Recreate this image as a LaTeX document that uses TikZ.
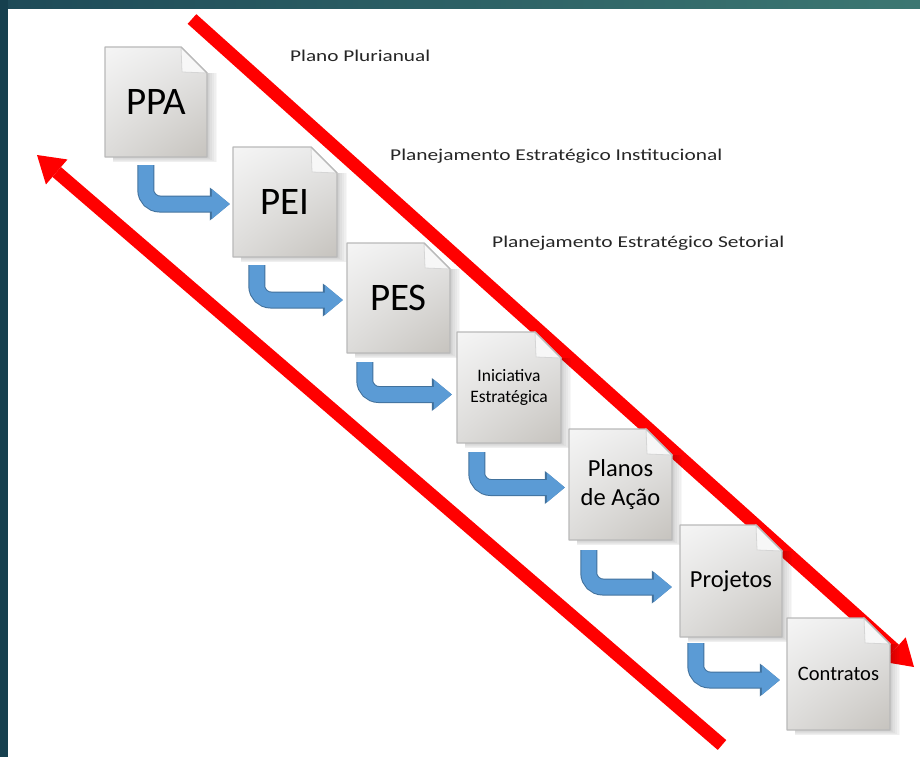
\documentclass[tikz,border=0pt]{standalone}
\usepackage{fontspec}
\setmainfont{Carlito}
\usetikzlibrary{arrows.meta,calc,shadings}
\definecolor{frameleft}{HTML}{16404E}
\definecolor{topA}{HTML}{1E4A58}
\definecolor{topB}{HTML}{3C7772}
\definecolor{arrowfill}{HTML}{5B9BD5}
\definecolor{arrowedge}{HTML}{41719C}
\definecolor{redline}{HTML}{FF0000}
\definecolor{docedge}{HTML}{B9B9B9}
\definecolor{docA}{HTML}{F5F5F5}
\definecolor{docB}{HTML}{E8E8E8}
\definecolor{docC}{HTML}{DCDBD9}
\definecolor{docD}{HTML}{C6C3BE}
\definecolor{foldfill}{HTML}{F7F7F7}
\definecolor{titlecol}{HTML}{262626}
\tikzset{
  docnode/.style={inner sep=0pt, align=center, text=black},
  redarrow/.style={line width=13pt, draw=redline, -{Triangle[width=33pt,length=26pt,line width=0pt]}},
  bluearrow/.style={line width=15pt, draw=arrowfill, rounded corners=14pt,
     -{Triangle[width=30pt,length=18pt,line width=0pt]},
     preaction={draw=arrowedge, line width=17pt, -{Triangle[width=33pt,length=20pt,line width=0pt]}}},
  titletext/.style={anchor=base west, inner sep=0pt, text=titlecol},
}
\newcommand\docpage[7]{%
  \pgfmathsetmacro\dw{#4-#2}\pgfmathsetmacro\dh{#5-#3}%
  \foreach \k in {1,...,6}{\fill[black, opacity=0.03] ({#2+8},{#3+26}) rectangle ({#4+1.7*\k},{#5+0.9*\k});}
  \shadedraw[upper left=docA, upper right=docB, lower left=docC, lower right=docD, draw=docedge, line width=1.2pt, line join=round]
    (#2,#3) -- ({#4-26},#3) -- (#4,{#3+26}) -- (#4,#5) -- (#2,#5) -- cycle;
  \filldraw[fill=foldfill, draw=docedge!60, line width=0.8pt] ({#4-26},#3) -- ({#4-25},{#3+25}) -- (#4,{#3+26}) -- cycle;
  \draw[docedge, line width=1.2pt] ({#4-26},#3) -- (#4,{#3+26});
  \node[docnode, font=#6, minimum width=\dw pt, minimum height=\dh pt] (#1) at ({(#2+#4)/2},{(#3+#5)/2}) {#7};
}
\begin{document}
\begin{tikzpicture}[x=1pt, y=-1pt]
\useasboundingbox (0,0) rectangle (920,757);
\fill[white] (0,0) rectangle (920,757);
\shade[left color=topA, right color=topB] (0,0) rectangle (920,9);
\fill[frameleft] (0,0) rectangle (8,757);

% red arrows
\coordinate (r1s) at (192,19);
\coordinate (r1e) at (914,667);
\coordinate (r2s) at (722,745);
\coordinate (r2e) at (37,155);
\draw[redarrow] (r1s) -- (r1e);
\draw[redarrow] (r2s) -- (r2e);

% documents
\docpage{ppa}{105}{47}{207}{157}{\fontsize{39}{40}\selectfont}{PPA}
\docpage{pei}{233}{147}{337}{257}{\fontsize{39}{40}\selectfont}{PEI}
\docpage{pes}{347}{243}{450}{353}{\fontsize{39}{40}\selectfont}{PES}
\docpage{ini}{457}{332}{561}{443}{\fontsize{17.5}{21}\selectfont}{Iniciativa\\Estratégica}
\docpage{pla}{569}{429}{672}{540}{\fontsize{24.5}{29}\selectfont}{Planos\\de Ação}
\docpage{pro}{680}{525}{782}{637}{\fontsize{24.5}{29}\selectfont}{Projetos}
\docpage{con}{787}{618}{890}{730}{\fontsize{20.5}{24}\selectfont}{Contratos}

% blue bent arrows
\draw[bluearrow] ($(ppa.south west)+(41,8)$) |- ($(pei.west)+(-3,2)$);
\draw[bluearrow] ($(pei.south west)+(24,8)$) |- ($(pes.west)+(-4,2)$);
\draw[bluearrow] ($(pes.south west)+(18,9)$) |- ($(ini.west)+(-5,7)$);
\draw[bluearrow] ($(ini.south west)+(20,9)$) |- ($(pla.west)+(-4,3)$);
\draw[bluearrow] ($(pla.south west)+(20,10)$) |- ($(pro.west)+(-8,6)$);
\draw[bluearrow] ($(pro.south west)+(16,6)$) |- ($(con.west)+(-7,6)$);

% titles
\node[titletext] (t1) at (290,62) {\fontsize{16.5}{18}\selectfont\resizebox{140pt}{\height}{Plano Plurianual}};
\node[titletext] (t2) at (390,160) {\fontsize{16.5}{18}\selectfont\resizebox{332pt}{\height}{Planejamento Estratégico Institucional}};
\node[titletext] (t3) at (492,247) {\fontsize{16.5}{18}\selectfont\resizebox{292pt}{\height}{Planejamento Estratégico Setorial}};
\end{tikzpicture}
\end{document}
